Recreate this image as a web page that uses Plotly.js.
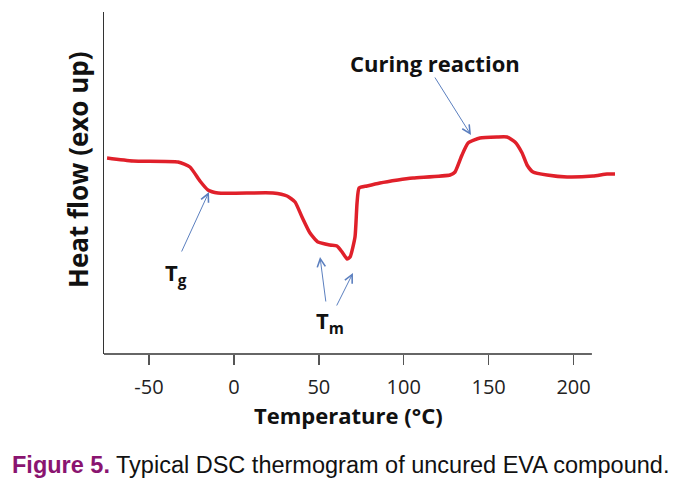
<!DOCTYPE html>
<html>
<head>
<meta charset="utf-8">
<script src="https://cdn.plot.ly/plotly-3.0.1.min.js"></script>
<style>html,body{margin:0;padding:0;background:#fff;}#chart{width:690px;height:483px;}</style>
</head>
<body>
<div id="chart"></div>
<script>
// Temperature (°C)
const temperature = [-74.7, -59.4, -32.9, -25.9, -20.0, -15.3, -9.4, 23.0, 31.3, 36.0, 40.1, 44.8, 49.5, 56.6, 60.7, 63.7, 66.6, 68.4, 71.3, 72.5, 73.7, 78.4, 86.0, 96.6, 105.5, 127.3, 130.2, 134.3, 137.9, 144.9, 154.9, 160.8, 165.5, 169.7, 172.6, 176.1, 184.4, 196.2, 211.5, 219.7, 224.4];
// Heat flow (arbitrary units, exo up)
const heatFlow = [19.5, 19.2, 19.1, 18.6, 17.2, 16.3, 16.0, 16.0, 15.7, 15.1, 13.6, 12.0, 11.1, 10.8, 10.7, 10.1, 9.4, 9.6, 11.6, 15.0, 16.5, 16.7, 17.0, 17.3, 17.5, 17.8, 18.1, 19.8, 21.0, 21.5, 21.6, 21.6, 21.1, 20.0, 18.8, 18.1, 17.8, 17.6, 17.7, 17.9, 17.9];
const tickValues = [-50, 0, 50, 100, 150, 200];
const tickLabels = ['-50', '0', '50', '100', '150', '200'];

const xRange = [-76.5, 224.4];
const yRange = [-0.1, 34.1];
const axisEnd = 210.8;

const arrowColor = '#5b7fbf';
const arrowBase = {xref: 'x', yref: 'y', axref: 'pixel', ayref: 'pixel', text: '', showarrow: true,
  arrowhead: 5, arrowsize: 1.6, arrowwidth: 1, arrowcolor: arrowColor, standoff: 0, startstandoff: 0};

const trace = {
  x: temperature, y: heatFlow, type: 'scatter', mode: 'lines',
  line: {color: '#e0202a', width: 3.5, shape: 'spline', smoothing: 0.5},
  hoverinfo: 'skip'
};

const layout = {
  width: 690, height: 483,
  margin: {l: 104, r: 75, t: 12, b: 129, pad: 0},
  paper_bgcolor: '#ffffff', plot_bgcolor: '#ffffff',
  showlegend: false,
  xaxis: {
    range: xRange, showline: false, zeroline: false, showgrid: false,
    ticks: 'outside', ticklen: 10, tickwidth: 1.5, tickcolor: '#555',
    tickvals: tickValues, ticktext: tickLabels, ticklabelstandoff: 5,
    tickfont: {family: 'Open Sans, sans-serif', size: 20, color: '#222'}
  },
  yaxis: {
    range: yRange, showline: true, linecolor: '#333', linewidth: 1.5,
    zeroline: false, showgrid: false, ticks: '', showticklabels: false
  },
  shapes: [
    {type: 'line', xref: 'x', yref: 'paper', x0: xRange[0], x1: axisEnd, y0: 0, y1: 0,
     line: {color: '#333', width: 1.5}}
  ],
  annotations: [
    {xref: 'paper', yref: 'paper', x: -0.0509, y: 0.541, text: '<b>Heat flow (exo up)</b>',
     textangle: -90, showarrow: false, xanchor: 'center', yanchor: 'middle',
     font: {family: 'Open Sans, sans-serif', size: 26, color: '#111'}},
    {xref: 'paper', yref: 'paper', x: 0.479, y: -0.178, text: '<b>Temperature (°C)</b>',
     showarrow: false, xanchor: 'center', yanchor: 'middle',
     font: {family: 'Open Sans, sans-serif', size: 22, color: '#111'}},
    {xref: 'paper', yref: 'paper', x: -0.184, y: -0.3246,
     text: '<b><span style="color:#8a1470">Figure 5.</span></b> Typical DSC thermogram of uncured EVA compound.',
     showarrow: false, xanchor: 'left', yanchor: 'middle',
     font: {family: 'Liberation Sans, Arial, sans-serif', size: 23.5, color: '#111'}},
    {xref: 'paper', yref: 'paper', x: (435 - 104) / 511, y: (354 - 63) / 342, text: '<b>Curing reaction</b>',
     showarrow: false, xanchor: 'center', yanchor: 'middle',
     font: {family: 'Open Sans, sans-serif', size: 22, color: '#111'}},
    {xref: 'paper', yref: 'paper', x: (176 - 104) / 511, y: (354 - 274) / 342, text: '<b>T<sub>g</sub></b>',
     showarrow: false, xanchor: 'center', yanchor: 'middle',
     font: {family: 'Open Sans, sans-serif', size: 22, color: '#111'}},
    {xref: 'paper', yref: 'paper', x: (330 - 104) / 511, y: (354 - 322) / 342, text: '<b>T<sub>m</sub></b>',
     showarrow: false, xanchor: 'center', yanchor: 'middle',
     font: {family: 'Open Sans, sans-serif', size: 22, color: '#111'}},
    Object.assign({}, arrowBase, {x: 139.6, y: 21.8, ax: -37, ay: -59}),
    Object.assign({}, arrowBase, {x: -14.7, y: 16.1, ax: -28, ay: 61}),
    Object.assign({}, arrowBase, {x: 50.7, y: 9.6, ax: 6, ay: 46}),
    Object.assign({}, arrowBase, {x: 70.1, y: 8.0, ax: -17, ay: 34})
  ]
};

Plotly.newPlot('chart', [trace], layout, {displayModeBar: false, staticPlot: true});
</script>
</body>
</html>
